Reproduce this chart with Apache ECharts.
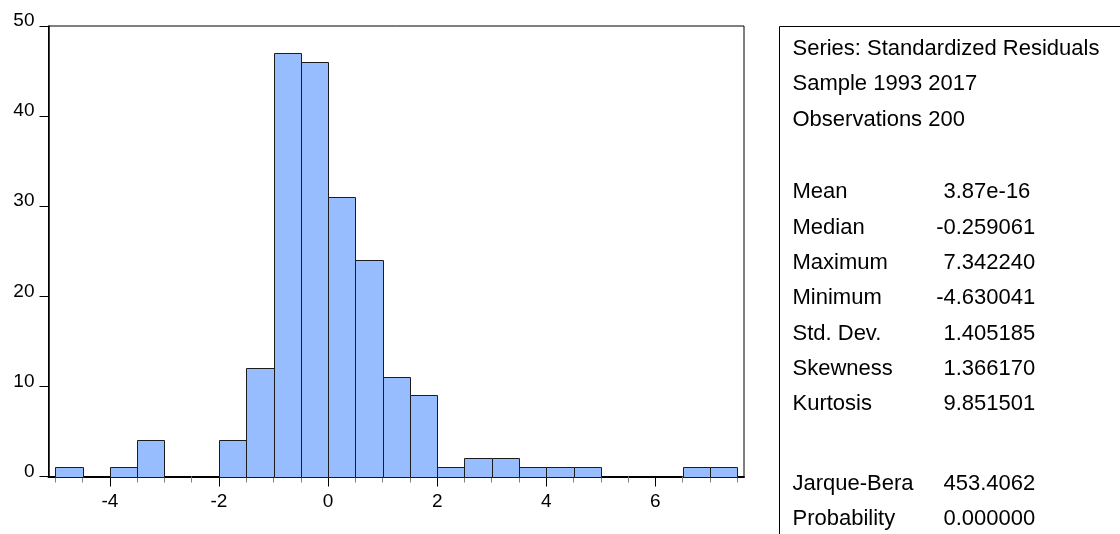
<!DOCTYPE html>
<html>
<head>
<meta charset="utf-8">
<script src="https://cdn.jsdelivr.net/npm/echarts@6/dist/echarts.min.js"></script>
<style>
html,body{margin:0;padding:0;background:#fff;}
#chart{width:1120px;height:534px;}
</style>
</head>
<body>
<div id="chart"></div>
<script>
// ---- data ----
const binStarts = [-5.0,-4.5,-4.0,-3.5,-3.0,-2.5,-2.0,-1.5,-1.0,-0.5,0.0,0.5,1.0,1.5,2.0,2.5,3.0,3.5,4.0,4.5,5.0,5.5,6.0,6.5,7.0];
const counts    = [1,0,1,4,0,0,4,12,47,46,31,24,11,9,1,2,2,1,1,1,0,0,0,1,1];
const binWidth = 0.5;
const xMajorTicks = [-4,-2,0,2,4,6];
const xMinorTicks = [-5,-4.5,-4,-3.5,-3,-2.5,-2,-1.5,-1,-0.5,0,0.5,1,1.5,2,2.5,3,3.5,4,4.5,5,5.5,6,6.5,7,7.5];
const yTicks = [0,10,20,30,40,50];
const headerLines = ["Series: Standardized Residuals","Sample 1993 2017","Observations 200"];
const statLabels = ["Mean","Median","Maximum","Minimum","Std. Dev.","Skewness","Kurtosis"];
const statValues = ["3.87e-16","-0.259061","7.342240","-4.630041","1.405185","1.366170","9.851501"];
const testLabels = ["Jarque-Bera","Probability"];
const testValues = ["453.4062","0.000000"];

// ---- chart ----
const FONT = '"Liberation Sans", Arial, sans-serif';
const chart = echarts.init(document.getElementById('chart'), null, {renderer:'canvas'});
const histData = binStarts.map((s,i)=>[s,counts[i]]);

const graphics = [];
graphics.push({type:'rect', shape:{x:779.5,y:26.5,width:400,height:600}, style:{fill:'none',stroke:'#000',lineWidth:1}, z:1});
const fontStr = '22px ' + FONT;
const LH = 35.3;
const labelX = 792.5, valueX = 943.5, minusW = 7.3;
function addText(t, x, baseline){
  graphics.push({type:'text', x:x, y:baseline-7.7, style:{text:t, font:fontStr, fill:'#000', align:'left', verticalAlign:'middle'}, z:2});
}
headerLines.forEach((t,i)=>addText(t,labelX,56.7+i*LH));
statLabels.forEach((t,i)=>{
  const b = 200+i*LH;
  addText(t,labelX,b);
  const v = statValues[i];
  addText(v, v.startsWith('-') ? valueX-minusW : valueX, b);
});
testLabels.forEach((t,i)=>{
  const b = 491.7+i*LH;
  addText(t,labelX,b);
  const v = testValues[i];
  addText(v, v.startsWith('-') ? valueX-minusW : valueX, b);
});

const option = {
  animation:false,
  backgroundColor:'#fff',
  grid:{left:48.5, top:26, width:695.5, height:450.5, show:true, borderColor:'#000', borderWidth:1, backgroundColor:'#fff'},
  xAxis:[{
    type:'value', min:-5.125, max:7.625, position:'bottom',
    axisLine:{show:true, onZero:false, lineStyle:{color:'#000', width:2}},
    axisTick:{show:true, customValues:xMajorTicks, length:10, lineStyle:{color:'#000', width:1}},
    axisLabel:{show:true, customValues:xMajorTicks, fontSize:19, fontFamily:FONT, color:'#000', margin:16},
    splitLine:{show:false}
  },{
    type:'value', min:-5.125, max:7.625, position:'bottom',
    axisLine:{show:false, onZero:false},
    axisTick:{show:true, customValues:xMinorTicks.filter(v=>xMajorTicks.indexOf(v)<0), length:6, lineStyle:{color:'#808080', width:1}},
    axisLabel:{show:false},
    splitLine:{show:false}
  }],
  yAxis:{
    type:'value', min:0, max:50, interval:10, position:'left',
    axisLine:{show:true, onZero:false, lineStyle:{color:'#000', width:1.5}},
    axisTick:{show:true, length:9, lineStyle:{color:'#000', width:1}},
    axisLabel:{fontSize:19, fontFamily:FONT, color:'#000', margin:14, verticalAlign:'bottom', lineHeight:10},
    splitLine:{show:false}
  },
  series:[{
    type:'custom',
    xAxisIndex:0, yAxisIndex:0,
    data:histData,
    encode:{x:0,y:1},
    renderItem:function(params, api){
      const x0 = api.value(0), c = api.value(1);
      if (!c) return null;
      const p0 = api.coord([x0, c]);
      const p1 = api.coord([x0+binWidth, 0]);
      return {type:'rect', shape:{x:Math.round(p0[0])+0.5, y:Math.round(p0[1])+0.5, width:Math.round(p1[0])-Math.round(p0[0]), height:Math.round(p1[1])-Math.round(p0[1])},
        style:{fill:'#97BDFE', stroke:'#1c1c1c', lineWidth:1}};
    },
    z:2
  }],
  graphic:graphics
};
chart.setOption(option);
</script>
</body>
</html>
